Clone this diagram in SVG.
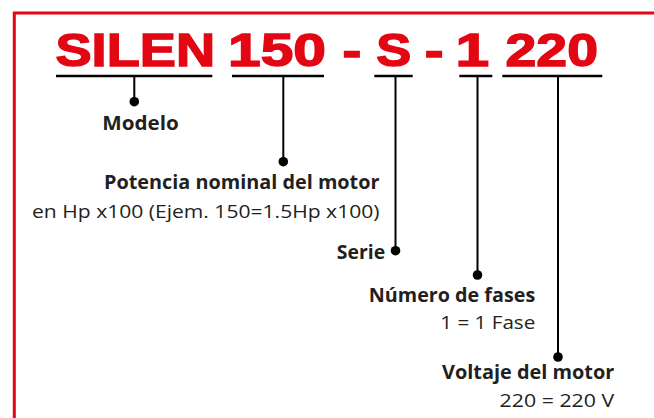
<svg xmlns="http://www.w3.org/2000/svg" width="654" height="418" viewBox="0 0 654 418">
<style>
.t{font-family:"Liberation Sans",Arial,sans-serif;font-weight:bold;font-size:46px;fill:#e30613;stroke:#e30613;stroke-width:1.4}
.b{font-family:"Open Sans","Noto Sans",sans-serif;font-weight:bold;font-size:20px;fill:#231f20}
.r{font-family:"Open Sans","Noto Sans",sans-serif;font-size:17.5px;fill:#231f20}
.ln{stroke:#000;stroke-width:2;fill:none}
.ul{stroke:#000;stroke-width:2.5;fill:none}
.dot{fill:#000}
</style>
<rect x="14.3" y="13" width="700" height="500" fill="#fff" stroke="#e30613" stroke-width="3"/>
<g id="title">
<text class="t" x="55.5" y="65.5" textLength="159.5" lengthAdjust="spacingAndGlyphs">SILEN</text>
<text class="t" x="228" y="65.5" textLength="98" lengthAdjust="spacingAndGlyphs">150</text>
<text class="t" x="342.5" y="65.5" textLength="18.8" lengthAdjust="spacingAndGlyphs">-</text>
<text class="t" x="376.3" y="65.5" textLength="35" lengthAdjust="spacingAndGlyphs">S</text>
<text class="t" x="424.8" y="65.5" textLength="18.8" lengthAdjust="spacingAndGlyphs">-</text>
<text class="t" x="455.4" y="65.5" textLength="33.7" lengthAdjust="spacingAndGlyphs">1</text>
<text class="t" x="505.5" y="65.5" textLength="92.5" lengthAdjust="spacingAndGlyphs">220</text>
</g>
<g id="connectors">
<line class="ul" x1="56" y1="76" x2="212.3" y2="76"/>
<line class="ul" x1="232" y1="76" x2="324" y2="76"/>
<line class="ul" x1="374.3" y1="76" x2="412.7" y2="76"/>
<line class="ul" x1="459.3" y1="76" x2="492.3" y2="76"/>
<line class="ul" x1="502.3" y1="76" x2="602.3" y2="76"/>
<line class="ln" x1="134.3" y1="76" x2="134.3" y2="101.7"/>
<line class="ln" x1="283.3" y1="76" x2="283.3" y2="161.7"/>
<line class="ln" x1="395.5" y1="76" x2="395.5" y2="250.7"/>
<line class="ln" x1="477.5" y1="76" x2="477.5" y2="275"/>
<line class="ln" x1="558" y1="76" x2="558" y2="357"/>
<circle class="dot" cx="134.3" cy="101.7" r="4.8"/>
<circle class="dot" cx="283.3" cy="161.7" r="4.8"/>
<circle class="dot" cx="395.5" cy="250.7" r="4.8"/>
<circle class="dot" cx="477.5" cy="275" r="4.8"/>
<circle class="dot" cx="558" cy="357" r="4.8"/>
</g>
<g id="modelo">
<text class="b" x="102.3" y="129.5" textLength="76.5" lengthAdjust="spacingAndGlyphs">Modelo</text>
</g>
<g id="potencia">
<text class="b" x="104" y="189" textLength="275.5" lengthAdjust="spacingAndGlyphs">Potencia nominal del motor</text>
<text class="r" x="32" y="218.3" textLength="347.5" lengthAdjust="spacingAndGlyphs">en Hp x100 (Ejem. 150=1.5Hp x100)</text>
</g>
<g id="serie">
<text class="b" x="336.8" y="259.3" textLength="48.4" lengthAdjust="spacingAndGlyphs">Serie</text>
</g>
<g id="fases">
<text class="b" x="368.8" y="301.7" textLength="166.4" lengthAdjust="spacingAndGlyphs">Número de fases</text>
<text class="r" x="440.3" y="329.3" textLength="95" lengthAdjust="spacingAndGlyphs">1 = 1 Fase</text>
</g>
<g id="voltaje">
<text class="b" x="442" y="379.3" textLength="172.3" lengthAdjust="spacingAndGlyphs">Voltaje del motor</text>
<text class="r" x="499.6" y="406.7" textLength="114.6" lengthAdjust="spacingAndGlyphs">220 = 220 V</text>
</g>
</svg>
